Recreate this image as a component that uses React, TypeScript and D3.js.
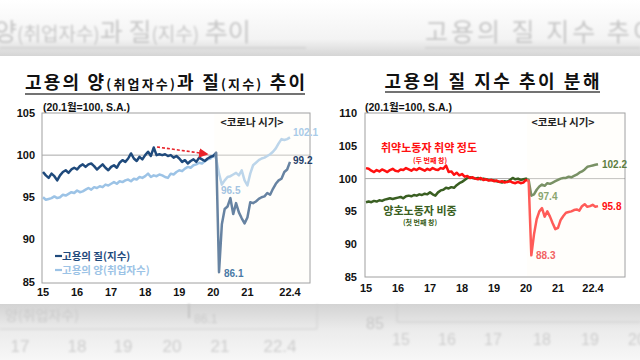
import * as d3 from 'd3'

// monthly, 2015.1 ~ 2022.4 (20.1월 = 100)
const qualityIdx = [
  98.0, 97.6, 97.3, 97.8, 97.5, 97.0, 97.6, 98.0, 98.2, 97.9, 98.3, 98.5,
  98.3, 98.7, 98.9, 98.6, 98.9, 99.0, 98.7, 98.3, 98.6, 98.9, 98.5, 98.2,
  98.6, 98.8, 98.5, 99.1, 99.4, 99.2, 99.6, 100.2, 99.6, 99.3, 99.8, 99.5,
  100.0, 100.4, 99.9, 100.9, 100.0, 100.1, 100.0, 100.1, 99.9, 100.0, 99.7, 99.9,
  99.6, 99.2, 99.4, 99.0, 99.3, 99.5, 99.2, 99.7, 99.5, 99.3, 99.6, 99.8,
  99.9, 100.3, 86.1, 91.8, 93.6, 93.9, 94.9, 93.0, 94.3, 93.2, 92.5, 91.9,
  92.6, 94.4, 94.3, 94.5, 94.8, 95.0, 95.1, 95.5, 95.3, 96.0, 96.6, 97.0,
  97.2, 98.0, 98.3, 99.2,
]
const employedIdx = [
  95.0, 94.7, 94.8, 94.9, 95.1, 94.9, 95.0, 95.3, 95.2, 95.4, 95.6, 95.5,
  95.8, 95.6, 95.7, 95.9, 96.1, 95.9, 96.2, 96.1, 96.3, 96.2, 96.5, 96.4,
  96.6, 96.8, 96.6, 96.9, 96.8, 97.0, 97.1, 96.9, 97.2, 97.1, 97.4, 97.3,
  97.5, 97.8, 97.4, 97.6, 97.5, 97.7, 97.6, 97.4, 97.3, 97.8, 97.7, 98.0,
  98.2, 98.1, 98.4, 98.6, 98.5, 98.8, 98.9, 99.1, 99.0, 99.3, 99.5, 99.6,
  100.0, 99.6, 97.8, 96.5, 97.0, 97.4, 97.5, 97.7, 97.9, 97.6, 98.2, 97.0,
  96.4, 97.8, 98.8, 99.1, 99.4, 99.6, 99.7, 99.9, 100.1, 100.4, 100.8, 101.4,
  101.9, 101.8, 101.9, 102.1,
]
const vulnerableIdx = [
  101.6, 101.5, 101.2, 101.0, 101.3, 101.1, 101.4, 101.2, 101.0, 101.3, 101.5, 101.2,
  101.1, 101.4, 101.3, 101.6, 101.4, 101.2, 101.5, 101.3, 101.6, 101.4, 101.2, 101.5,
  101.3, 101.6, 101.4, 101.3, 101.6, 101.5, 102.0, 101.0, 101.1, 100.6, 100.9, 100.5,
  100.7, 100.3, 100.4, 100.1, 100.2, 100.0, 99.9, 100.1, 99.8, 99.9, 99.7, 99.8,
  99.6, 99.7, 99.5, 99.6, 99.4, 99.5, 99.6, 99.4, 99.3, 99.5, 99.3, 99.4,
  99.8, 99.6, 88.3, 91.5, 93.8, 95.0, 95.5, 94.2, 95.0, 94.2, 93.2, 92.3,
  92.5, 93.7, 94.3, 94.8, 94.9, 95.0, 95.2, 95.3, 95.1, 95.8, 96.1, 95.7,
  95.8, 96.0, 95.7, 95.8,
]
const goodShareIdx = [
  96.4, 96.5, 96.4, 96.6, 96.5, 96.7, 96.6, 96.8, 96.9, 97.0, 96.9, 97.0,
  97.1, 97.2, 97.0, 97.3, 97.4, 97.3, 97.5, 97.4, 97.6, 97.5, 97.7, 97.6,
  97.9, 97.6, 97.4, 97.9, 98.2, 98.3, 98.6, 98.5, 98.7, 98.6, 99.0, 99.3,
  99.5, 99.8, 100.1, 100.2, 100.1, 100.0, 100.1, 99.9, 100.0, 99.9, 99.8, 99.8,
  99.7, 99.6, 99.5, 99.4, 99.6, 99.5, 99.8, 100.1, 99.9, 100.0, 99.8, 99.9,
  100.0, 99.8, 97.4, 97.6, 98.3, 98.8, 99.1, 98.9, 99.3, 99.2, 99.4, 99.6,
  99.8, 100.0, 100.1, 100.1, 100.3, 100.2, 100.4, 100.6, 100.9, 101.1, 101.4, 101.8,
  101.9, 102.0, 102.1, 102.2,
]

const tickYears = [2015, 2016, 2017, 2018, 2019, 2020, 2021, 2022.25]
const tickLabels = ['15', '16', '17', '18', '19', '20', '21', '22.4']
const leftYTicks = [85, 90, 95, 100, 105]
const rightYTicks = [85, 90, 95, 100, 105, 110]

const KR = '"Noto Sans CJK KR", sans-serif'
const NUM = '"Liberation Sans", Arial, "Noto Sans CJK KR", sans-serif'

const NAVY = '#1f4a7c'
const SKY = '#9cc3e6'
const RED = '#ff1010'
const GREEN = '#3a5f22'

const dateOf = (i: number) => 2015 + i / 12

const LinePath = (props: { values: number[], x: any, y: any, color: string }) => {
  const { values, x, y, color } = props
  const line = d3.line<number>()
    .x((_d, i) => x(dateOf(i)))
    .y(d => y(d))
  return <path d={line(values) || ''} fill="none" stroke={color} strokeWidth={2.5} strokeLinejoin="round" />
}

const Background = () => (
  <g>
    <defs>
      <linearGradient id="topBg" x1="0" y1="0" x2="0" y2="1">
        <stop offset="0" stopColor="#ffffff" />
        <stop offset="0.7" stopColor="#f3f3f3" />
        <stop offset="1" stopColor="#d5d5d5" />
      </linearGradient>
      <linearGradient id="botBg" x1="0" y1="0" x2="0" y2="1">
        <stop offset="0" stopColor="#d3d3d3" />
        <stop offset="0.45" stopColor="#ebebeb" />
        <stop offset="1" stopColor="#f7f7f7" />
      </linearGradient>
      <filter id="blur"><feGaussianBlur stdDeviation="0.8" /></filter>
    </defs>
    <rect x={0} y={0} width={640} height={56} fill="url(#topBg)" />
    <rect x={0} y={304} width={640} height={56} fill="url(#botBg)" />
    <g filter="url(#blur)" fill="#c6c6c6">
      <text x={-6} y={41} fontFamily={KR} fontSize={25}>양<tspan fontSize={19}>(취업자수)</tspan>과 질<tspan fontSize={19}>(지수)</tspan> 추이</text>
      <line x1={0} x2={306} y1={48} y2={48} stroke="#cfcfcf" strokeWidth={1.5} />
      <text x={425} y={41} fontFamily={KR} fontSize={25} letterSpacing={3}>고용의 질 지수 추이</text>
      <line x1={425} x2={640} y1={48} y2={48} stroke="#cfcfcf" strokeWidth={1.5} />
      <text x={5} y={320} fontFamily={KR} fontSize={14} fill="#cbcbcb">양(취업자수)</text>
      <line x1={189} x2={189} y1={304} y2={318} stroke="#c4c4c4" strokeWidth={2} />
      <text x={194} y={323} fontFamily={NUM} fontSize={12} fill="#cbcbcb">86.1</text>
      <path d="M0,329H317V304" fill="none" stroke="#d0d0d0" strokeWidth={1} />
      {['17', '18', '19', '20', '21', '22.4'].map((t, i) => (
        <text key={t} x={[20, 77, 123, 172, 220, 280][i]} y={352} textAnchor="middle" fontFamily={NUM} fontSize={17} fill="#cdcdcd">{t}</text>
      ))}
      <text x={375} y={329} textAnchor="middle" fontFamily={NUM} fontSize={16} fill="#c8c8c8">85</text>
      <path d="M397,304V322H640" fill="none" stroke="#cdcdcd" strokeWidth={1} />
      {['15', '16', '17', '18', '19', '20'].map((t, i) => (
        <text key={t} x={[401, 447, 493, 542, 590, 637][i]} y={345} textAnchor="middle" fontFamily={NUM} fontSize={16} fill="#cdcdcd">{t}</text>
      ))}
    </g>
  </g>
)

const LeftChart = () => {
  const box = { l: 42, r: 310, t: 113, b: 283 }
  const x = d3.scaleLinear().domain([2015, 2022.25]).range([43, 290])
  const y = d3.scaleLinear().domain([85, 105]).range([281.5, 113])
  const last = qualityIdx.length - 1
  return (
    <g>
      <text x={165} y={89} textAnchor="middle" fontFamily={KR} fontSize={18} fontWeight={700} fill="#111"
        textLength={280} lengthAdjust="spacing">
        고용의 양<tspan fontSize={13}>(취업자수)</tspan>과 질<tspan fontSize={13}>(지수)</tspan> 추이
      </text>
      <line x1={25} x2={305} y1={94} y2={94} stroke="#444" strokeWidth={1.3} />
      <text x={43} y={111} fontFamily={NUM} fontSize={10.5} fontWeight={700} fill="#111">(20.1월=100, S.A.)</text>
      <rect x={box.l} y={box.t} width={box.r - box.l} height={box.b - box.t} fill="#fff" stroke="#a0a0a0" strokeWidth={1} />
      <line x1={box.l} x2={box.r} y1={y(100)} y2={y(100)} stroke="#a8a8a8" strokeWidth={1} />
      {leftYTicks.map(t => (
        <text key={t} x={35} y={y(t) + 4} textAnchor="end" fontFamily={NUM} fontSize={11} fontWeight={700} fill="#111">{t}</text>
      ))}
      {tickYears.map((t, i) => (
        <text key={t} x={x(t)} y={296} textAnchor="middle" fontFamily={NUM} fontSize={11} fontWeight={700} fill="#111">{tickLabels[i]}</text>
      ))}
      <LinePath values={employedIdx} x={x} y={y} color={SKY} />
      <LinePath values={qualityIdx} x={x} y={y} color={NAVY} />
      {/* 코로나 시기 음영 */}
      <rect x={x(2020) + 1} y={box.t + 1} width={box.r - x(2020) - 2} height={box.b - box.t - 2} fill="#fffdf2" opacity={0.32} />
      <defs>
        <marker id="redArrow" markerWidth={6} markerHeight={6} refX={5} refY={3} orient="auto">
          <path d="M0,0L6,3L0,6Z" fill="#e8232a" />
        </marker>
      </defs>
      <line x1={157} y1={147} x2={207} y2={154} stroke="#e8232a" strokeWidth={1.6} strokeDasharray="3,2" markerEnd="url(#redArrow)" />
      <text x={252} y={126} textAnchor="middle" fontFamily={KR} fontSize={10.5} fontWeight={700} fill="#222">&lt;코로나 시기&gt;</text>
      <text x={x(dateOf(last)) + 3} y={y(employedIdx[last]) - 1} fontFamily={NUM} fontSize={10} fontWeight={700} fill="#a9cbe8">102.1</text>
      <text x={x(dateOf(last)) + 3} y={y(qualityIdx[last]) + 2} fontFamily={NUM} fontSize={10} fontWeight={700} fill="#1f3f6a">99.2</text>
      <text x={221} y={194} fontFamily={NUM} fontSize={10} fontWeight={700} fill="#a4c4e2">96.5</text>
      <text x={224} y={277} fontFamily={NUM} fontSize={10} fontWeight={700} fill="#4a7aa6">86.1</text>
      <line x1={55} x2={62} y1={256} y2={256} stroke={NAVY} strokeWidth={2.2} />
      <text x={62} y={260} fontFamily={KR} fontSize={10.5} fontWeight={700} fill={NAVY}>고용의 질(지수)</text>
      <line x1={55} x2={62} y1={270} y2={270} stroke={SKY} strokeWidth={2.2} />
      <text x={62} y={274} fontFamily={KR} fontSize={10.5} fontWeight={700} fill={SKY}>고용의 양(취업자수)</text>
    </g>
  )
}

const RightChart = () => {
  const box = { l: 365, r: 625, t: 113, b: 277 }
  const x = d3.scaleLinear().domain([2015, 2022.25]).range([366, 598])
  const y = d3.scaleLinear().domain([85, 110]).range([277, 113])
  const last = vulnerableIdx.length - 1
  return (
    <g>
      <text x={492} y={88} textAnchor="middle" fontFamily={KR} fontSize={18} fontWeight={700} fill="#111"
        textLength={215} lengthAdjust="spacing">고용의 질 지수 추이 분해</text>
      <line x1={385} x2={600} y1={92} y2={92} stroke="#444" strokeWidth={1.3} />
      <text x={365} y={111} fontFamily={NUM} fontSize={10.5} fontWeight={700} fill="#111">(20.1월=100, S.A.)</text>
      <rect x={box.l} y={box.t} width={box.r - box.l} height={box.b - box.t} fill="#fff" stroke="#a0a0a0" strokeWidth={1} />
      <line x1={box.l} x2={box.r} y1={y(100)} y2={y(100)} stroke="#a8a8a8" strokeWidth={1} />
      {rightYTicks.map(t => (
        <text key={t} x={357} y={y(t) + 4} textAnchor="end" fontFamily={NUM} fontSize={11} fontWeight={700} fill="#111">{t}</text>
      ))}
      {tickYears.map((t, i) => (
        <text key={t} x={i === tickYears.length - 1 ? x(t) - 5 : x(t)} y={292} textAnchor="middle" fontFamily={NUM} fontSize={11} fontWeight={700} fill="#111">{tickLabels[i]}</text>
      ))}
      <LinePath values={goodShareIdx} x={x} y={y} color={GREEN} />
      <LinePath values={vulnerableIdx} x={x} y={y} color={RED} />
      <rect x={x(2020) + 1} y={box.t + 1} width={box.r - x(2020) - 2} height={box.b - box.t - 2} fill="#fffdf2" opacity={0.32} />
      <text x={563} y={126} textAnchor="middle" fontFamily={KR} fontSize={10.5} fontWeight={700} fill="#222">&lt;코로나 시기&gt;</text>
      <text x={429} y={152} textAnchor="middle" fontFamily={KR} fontSize={11} fontWeight={700} fill={RED}>취약노동자 취약 정도</text>
      <text x={430} y={163} textAnchor="middle" fontFamily={KR} fontSize={7} fontWeight={700} fill={RED}>(두 번째 창)</text>
      <text x={420} y={215} textAnchor="middle" fontFamily={KR} fontSize={11} fontWeight={700} fill={GREEN}>양호노동자 비중</text>
      <text x={420} y={225} textAnchor="middle" fontFamily={KR} fontSize={7} fontWeight={700} fill={GREEN}>(첫 번째 창)</text>
      <text x={x(dateOf(last)) + 4} y={y(goodShareIdx[last]) + 4} fontFamily={NUM} fontSize={10} fontWeight={700} fill="#5d7d40">102.2</text>
      <text x={x(dateOf(last)) + 4} y={y(vulnerableIdx[last]) + 4} fontFamily={NUM} fontSize={10} fontWeight={700} fill={RED}>95.8</text>
      <text x={538} y={200} fontFamily={NUM} fontSize={10} fontWeight={700} fill="#8ba56f">97.4</text>
      <text x={536} y={259} fontFamily={NUM} fontSize={10} fontWeight={700} fill="#f26262">88.3</text>
    </g>
  )
}

export default function App() {
  return (
    <div style={{ position: 'fixed', left: 0, top: 0 }}>
      <svg width={640} height={360} style={{ display: 'block', background: '#fff' }}>
        <Background />
        <LeftChart />
        <RightChart />
      </svg>
    </div>
  )
}
